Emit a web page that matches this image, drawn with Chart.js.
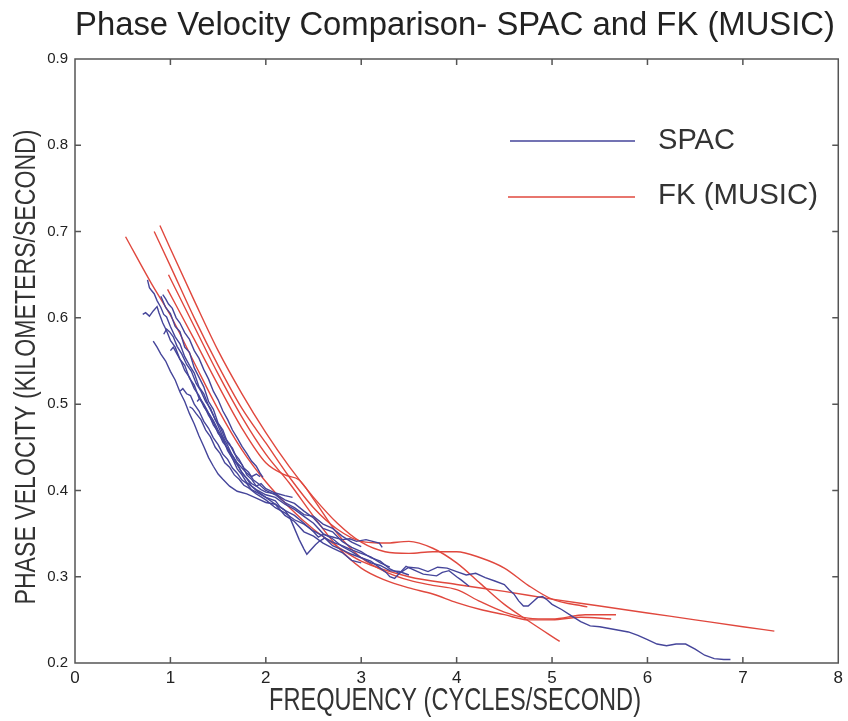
<!DOCTYPE html>
<html>
<head>
<meta charset="utf-8">
<script src="https://cdn.jsdelivr.net/npm/chart.js@4"></script>
<style>
html,body{margin:0;padding:0;background:#fff;}
#wrap{width:848px;height:721px;}
</style>
</head>
<body>
<div id="wrap"><canvas id="c" width="848" height="721"></canvas></div>
<script>
// ---- Text ----
const chartTitle = "Phase Velocity Comparison- SPAC and FK (MUSIC)";
const xTitle = "FREQUENCY (CYCLES/SECOND)";
const yTitle = "PHASE VELOCITY (KILOMETERS/SECOND)";
const seriesNames = ["SPAC", "FK (MUSIC)"];

// ---- Axis ticks ----
const xTicks = [0,1,2,3,4,5,6,7,8];
const yTicks = [0.2,0.3,0.4,0.5,0.6,0.7,0.8,0.9];

// ---- SPAC curves [frequency, velocity] ----
const spac1 = [[0.90,0.625],[0.95,0.612],[1.00,0.605],[1.05,0.590],[1.10,0.584],[1.15,0.566],[1.20,0.560],[1.25,0.542],[1.30,0.531],[1.35,0.520],[1.40,0.503],[1.45,0.494],[1.50,0.478],[1.55,0.470],[1.60,0.455],[1.65,0.449],[1.70,0.436],[1.75,0.430],[1.80,0.418],[1.85,0.413],[1.90,0.405],[1.95,0.401],[2.00,0.398],[2.10,0.396],[2.20,0.389],[2.30,0.385],[2.40,0.376],[2.50,0.368],[2.60,0.356],[2.70,0.352],[2.80,0.341],[2.90,0.334],[3.00,0.329],[3.10,0.322],[3.20,0.318],[3.30,0.309],[3.40,0.304],[3.50,0.311],[3.60,0.310],[3.70,0.306],[3.80,0.311],[3.90,0.310],[4.00,0.306],[4.10,0.302],[4.20,0.304],[4.30,0.299],[4.40,0.295],[4.50,0.291],[4.55,0.285],[4.60,0.280],[4.65,0.272],[4.70,0.266],[4.75,0.266],[4.80,0.271],[4.85,0.276],[4.90,0.277],[4.95,0.273],[5.00,0.268],[5.10,0.262],[5.20,0.255],[5.30,0.248],[5.40,0.243],[5.50,0.242],[5.60,0.240],[5.70,0.238],[5.80,0.236],[5.90,0.232],[6.00,0.227],[6.10,0.222],[6.20,0.220],[6.30,0.222],[6.40,0.222],[6.50,0.216],[6.60,0.209],[6.70,0.205],[6.80,0.204],[6.87,0.204]];
const spac2 = [[0.76,0.644],[0.78,0.635],[0.80,0.632],[0.83,0.628],[0.86,0.620],[0.90,0.612],[0.93,0.604],[0.96,0.601],[1.00,0.590],[1.05,0.578],[1.10,0.570],[1.15,0.555],[1.20,0.545],[1.25,0.536],[1.30,0.520],[1.35,0.512],[1.40,0.498],[1.45,0.487],[1.50,0.475],[1.55,0.462],[1.60,0.452],[1.65,0.440],[1.70,0.431],[1.75,0.420],[1.80,0.414],[1.85,0.405],[1.90,0.401],[2.00,0.395],[2.10,0.392],[2.20,0.384],[2.30,0.378],[2.40,0.370],[2.50,0.362],[2.60,0.350],[2.70,0.344],[2.80,0.335],[2.90,0.329],[3.00,0.322],[3.10,0.318],[3.20,0.310],[3.26,0.305],[3.30,0.300],[3.35,0.298],[3.40,0.304],[3.47,0.312],[3.55,0.308],[3.65,0.303],[3.79,0.301],[3.85,0.305],[3.92,0.307],[4.00,0.300],[4.05,0.296],[4.13,0.289]];
const spac3 = [[0.71,0.604],[0.74,0.606],[0.78,0.602],[0.82,0.608],[0.86,0.613],[0.88,0.606],[0.92,0.594],[0.96,0.585],[1.00,0.574],[1.05,0.566],[1.10,0.552],[1.15,0.545],[1.20,0.530],[1.25,0.522],[1.30,0.507],[1.35,0.499],[1.40,0.487],[1.45,0.479],[1.50,0.466],[1.55,0.459],[1.60,0.448],[1.65,0.441],[1.70,0.432],[1.75,0.426],[1.80,0.420],[1.85,0.416],[1.90,0.419],[1.94,0.416]];
const spac4 = [[0.82,0.573],[0.86,0.566],[0.90,0.558],[0.95,0.550],[1.00,0.538],[1.05,0.528],[1.10,0.514],[1.15,0.503],[1.20,0.489],[1.25,0.477],[1.30,0.463],[1.35,0.451],[1.40,0.438],[1.45,0.428],[1.50,0.419],[1.55,0.413],[1.62,0.405],[1.70,0.399],[1.80,0.396],[1.90,0.391],[2.00,0.386],[2.10,0.384],[2.20,0.377],[2.30,0.371],[2.40,0.362],[2.50,0.352],[2.55,0.346],[2.60,0.349],[2.70,0.346],[2.80,0.343],[2.88,0.344],[2.95,0.341],[3.05,0.343],[3.12,0.341],[3.19,0.339],[3.22,0.334]];
const spac5 = [[0.92,0.627],[0.95,0.622],[0.98,0.616],[1.02,0.611],[1.06,0.600],[1.10,0.594],[1.15,0.583],[1.20,0.575],[1.25,0.562],[1.30,0.553],[1.35,0.540],[1.40,0.529],[1.45,0.515],[1.50,0.505],[1.55,0.492],[1.60,0.482],[1.65,0.470],[1.70,0.461],[1.75,0.451],[1.80,0.443],[1.85,0.434],[1.90,0.428],[1.94,0.420],[1.97,0.415]];
const spac6 = [[1.10,0.515],[1.13,0.518],[1.17,0.512],[1.21,0.510],[1.25,0.500],[1.30,0.492],[1.35,0.480],[1.40,0.472],[1.45,0.461],[1.50,0.453],[1.55,0.442],[1.60,0.436],[1.65,0.426],[1.70,0.420],[1.75,0.412],[1.80,0.408],[1.85,0.401],[1.90,0.398],[2.00,0.392],[2.10,0.388],[2.15,0.381],[2.20,0.377],[2.25,0.369],[2.30,0.356],[2.35,0.343],[2.40,0.332],[2.43,0.326],[2.47,0.331],[2.52,0.337],[2.56,0.341],[2.62,0.345],[2.70,0.340],[2.80,0.336],[2.90,0.331],[3.00,0.327],[3.10,0.323],[3.20,0.316],[3.30,0.311]];
const spac7 = [[1.20,0.497],[1.23,0.495],[1.27,0.489],[1.32,0.482],[1.37,0.470],[1.42,0.462],[1.47,0.450],[1.52,0.443],[1.57,0.432],[1.62,0.427],[1.67,0.418],[1.72,0.413],[1.77,0.406],[1.82,0.403],[1.90,0.396],[2.00,0.389],[2.10,0.380],[2.20,0.374],[2.30,0.366],[2.40,0.361],[2.50,0.353],[2.60,0.347],[2.70,0.336],[2.80,0.331],[2.90,0.326],[3.00,0.322],[3.10,0.316],[3.20,0.313],[3.30,0.307],[3.40,0.306],[3.50,0.302]];
const spac8 = [[1.00,0.562],[1.03,0.566],[1.07,0.558],[1.11,0.550],[1.15,0.539],[1.20,0.531],[1.25,0.518],[1.30,0.510],[1.35,0.497],[1.40,0.489],[1.45,0.476],[1.50,0.468],[1.55,0.456],[1.60,0.449],[1.65,0.437],[1.70,0.430],[1.75,0.421],[1.80,0.414],[1.85,0.408],[1.90,0.405],[1.95,0.408],[2.00,0.402],[2.10,0.397],[2.20,0.394],[2.28,0.392]];
const spac9 = [[0.93,0.581],[0.96,0.587],[0.99,0.584],[1.03,0.578],[1.07,0.567],[1.12,0.558],[1.17,0.546],[1.22,0.538],[1.27,0.524],[1.32,0.515],[1.37,0.503],[1.42,0.495],[1.47,0.482],[1.52,0.474],[1.57,0.461],[1.62,0.454],[1.67,0.443],[1.72,0.436],[1.77,0.426],[1.82,0.421],[1.87,0.412],[1.92,0.408],[2.00,0.400],[2.10,0.395],[2.20,0.386],[2.30,0.380],[2.40,0.372],[2.50,0.370],[2.60,0.361],[2.70,0.356],[2.80,0.347],[2.90,0.340],[3.00,0.335]];
const spac10 = [[1.28,0.503],[1.31,0.507],[1.35,0.500],[1.40,0.490],[1.45,0.481],[1.50,0.470],[1.55,0.460],[1.60,0.446],[1.65,0.437],[1.70,0.425],[1.75,0.418],[1.80,0.409],[1.85,0.405],[1.90,0.400],[2.00,0.392],[2.10,0.384],[2.20,0.371],[2.30,0.364],[2.40,0.352],[2.50,0.347],[2.60,0.339],[2.70,0.333],[2.80,0.328],[2.90,0.319],[3.00,0.316]];

// ---- FK (MUSIC) curves [frequency, velocity] ----
const fk1 = [[0.53,0.694],[0.80,0.640],[1.00,0.603],[1.25,0.548],[1.50,0.494],[1.75,0.447],[2.00,0.410],[2.25,0.380],[2.50,0.355],[2.75,0.335],[3.00,0.318],[3.50,0.300],[4.00,0.291],[4.50,0.283],[5.00,0.274],[5.50,0.266],[6.00,0.258],[6.50,0.250],[7.00,0.242],[7.33,0.237]];
const fk2 = [[0.83,0.700],[1.00,0.660],[1.25,0.600],[1.50,0.545],[1.75,0.495],[2.00,0.455],[2.25,0.415],[2.50,0.380],[2.75,0.355],[3.00,0.341],[3.25,0.339],[3.50,0.341],[3.75,0.333],[4.00,0.316],[4.25,0.292],[4.50,0.268],[4.75,0.249],[5.08,0.225]];
const fk3 = [[0.89,0.707],[1.00,0.680],[1.25,0.620],[1.50,0.562],[1.75,0.512],[2.00,0.467],[2.25,0.427],[2.50,0.392],[2.75,0.362],[3.00,0.340],[3.25,0.329],[3.50,0.327],[3.75,0.329],[4.00,0.329],[4.25,0.322],[4.50,0.310],[4.75,0.290],[5.00,0.274],[5.37,0.265]];
const fk4 = [[0.98,0.650],[1.25,0.590],[1.50,0.535],[1.75,0.485],[2.00,0.442],[2.25,0.408],[2.50,0.370],[2.75,0.335],[3.00,0.310],[3.25,0.296],[3.50,0.287],[3.75,0.280],[4.00,0.270],[4.25,0.262],[4.50,0.256],[4.75,0.250],[5.00,0.250],[5.30,0.253],[5.62,0.251]];
const fk5 = [[0.97,0.633],[1.25,0.575],[1.50,0.522],[1.75,0.472],[2.00,0.432],[2.20,0.418],[2.35,0.412],[2.50,0.390],[2.75,0.350],[3.00,0.322],[3.25,0.306],[3.50,0.296],[3.75,0.290],[4.00,0.285],[4.25,0.271],[4.50,0.259],[4.75,0.252],[5.00,0.251],[5.35,0.256],[5.67,0.256]];

const spacCurves = [spac1,spac2,spac3,spac4,spac5,spac6,spac7,spac8,spac9,spac10];
const fkCurves = [fk1,fk2,fk3,fk4,fk5];

const BLUE = '#45459a';
const RED = '#e0483e';

const toPts = arr => arr.map(p => ({x:p[0], y:p[1]}));
const datasets = [];
spacCurves.forEach(c => datasets.push({label: seriesNames[0], data: toPts(c), borderColor: BLUE, borderWidth: 1.4, pointRadius: 0, tension: 0, showLine: true, fill:false}));
fkCurves.forEach(c => datasets.push({label: seriesNames[1], data: toPts(c), borderColor: RED, borderWidth: 1.4, pointRadius: 0, cubicInterpolationMode: 'monotone', showLine: true, fill:false}));

function fitText(ctx, text, x, y, size, targetW, rot, align, color) {
  ctx.save();
  ctx.font = size + 'px "Liberation Sans", Arial, sans-serif';
  const w = ctx.measureText(text).width;
  const sx = targetW / w;
  ctx.translate(x, y);
  if (rot) ctx.rotate(rot);
  ctx.scale(sx, 1);
  ctx.fillStyle = color || '#222';
  ctx.textAlign = align || 'center';
  ctx.textBaseline = 'middle';
  ctx.fillText(text, 0, 0);
  ctx.restore();
}

const decor = {
  id: 'decor',
  afterDraw(chart) {
    const ctx = chart.ctx;
    const a = chart.chartArea;
    const xs = chart.scales.x, ys = chart.scales.y;
    ctx.save();
    ctx.strokeStyle = '#555';
    ctx.lineWidth = 1.5;
    ctx.strokeRect(a.left, a.top, a.right - a.left, a.bottom - a.top);
    const tl = 6;
    ctx.beginPath();
    xTicks.slice(1, -1).forEach(v => {
      const px = xs.getPixelForValue(v);
      ctx.moveTo(px, a.bottom); ctx.lineTo(px, a.bottom - tl);
      ctx.moveTo(px, a.top); ctx.lineTo(px, a.top + tl);
    });
    yTicks.slice(1, -1).forEach(v => {
      const py = ys.getPixelForValue(v);
      ctx.moveTo(a.left, py); ctx.lineTo(a.left + tl, py);
      ctx.moveTo(a.right, py); ctx.lineTo(a.right - tl, py);
    });
    ctx.stroke();
    // legend
    ctx.lineWidth = 1.4;
    ctx.strokeStyle = BLUE;
    ctx.beginPath(); ctx.moveTo(510, 141); ctx.lineTo(635, 141); ctx.stroke();
    ctx.strokeStyle = RED;
    ctx.beginPath(); ctx.moveTo(508, 197); ctx.lineTo(635, 197); ctx.stroke();
    ctx.restore();
    fitText(ctx, seriesNames[0], 658, 141, 30, 77, 0, 'left', '#333');
    fitText(ctx, seriesNames[1], 658, 196, 30, 160, 0, 'left', '#333');
    // titles
    fitText(ctx, chartTitle, 455, 26, 33, 760, 0, 'center', '#222');
    fitText(ctx, xTitle, 455, 701, 31, 372, 0, 'center', '#333');
    fitText(ctx, yTitle, 27, 367, 29, 475, -Math.PI/2, 'center', '#333');
  }
};

new Chart(document.getElementById('c'), {
  type: 'scatter',
  data: { datasets },
  options: {
    responsive: false,
    animation: false,
    devicePixelRatio: 1,
    layout: { padding: { top: 59, right: 7, bottom: 0, left: 0 } },
    plugins: { legend: { display: false }, title: { display: false }, tooltip: { enabled: false } },
    scales: {
      x: {
        type: 'linear', min: 0, max: 8,
        afterFit: s => { s.height = 58; },
        afterBuildTicks: s => { s.ticks = xTicks.map(v => ({value: v})); },
        grid: { display: false, drawTicks: false },
        border: { display: false },
        ticks: { padding: 5, color: '#222', font: { family: '"Liberation Sans Narrow", "Liberation Sans", Arial', size: 17 }, callback: v => String(v) }
      },
      y: {
        type: 'linear', min: 0.2, max: 0.9,
        afterFit: s => { s.width = 75; },
        afterBuildTicks: s => { s.ticks = yTicks.map(v => ({value: v})); },
        grid: { display: false, drawTicks: false },
        border: { display: false },
        ticks: { padding: 7, color: '#222', font: { family: '"Liberation Sans", Arial', size: 15 }, callback: v => Number(v).toFixed(1) }
      }
    }
  },
  plugins: [decor]
});
</script>
</body>
</html>
